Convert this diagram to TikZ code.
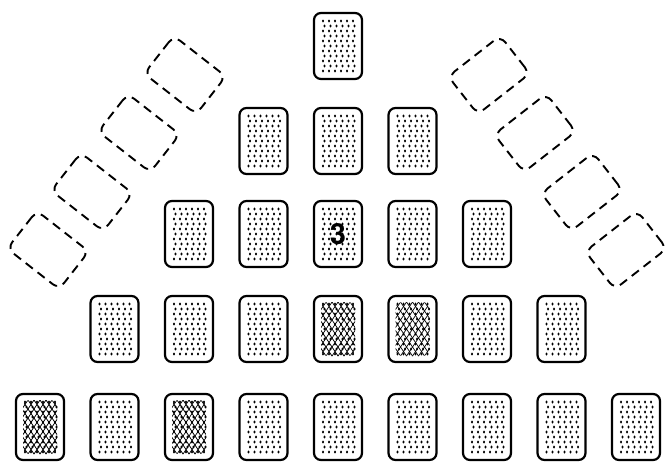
\documentclass[tikz,border=0pt]{standalone}
\usepackage{fontspec}
\newfontfamily\cardfont{TeX Gyre Heros}

% dotted back of a card
\newcommand{\carddots}{%
  \coordinate (pp) at (path picture bounding box.center);
  \foreach \i in {0,...,5}
    \foreach \j in {0,...,10}
      \fill ([shift={({-15+6*\i+1.5*mod(\j,2)},{25-5*\j})}]pp) ellipse (1.1pt and 1.6pt);}
% cross-hatched back of a card
\newcommand{\cardhatch}{%
  \coordinate (pp) at (path picture bounding box.center);
  \begin{scope}
    \clip ([shift={(-17,-27)}]pp) rectangle ([shift={(17,27)}]pp);
    \foreach \k in {-8,...,8}
      \draw[line width=0.7pt] ([shift={(6*\k-20,-30)}]pp) -- ++(40,60)
                              ([shift={(6*\k+20,-30)}]pp) -- ++(-40,60);
  \end{scope}}

\begin{document}
\begin{tikzpicture}[
  x=1pt,y=1pt,
  card/.style={draw,line width=2.2pt,rounded corners=7pt,minimum width=48pt,minimum height=66pt,
               inner sep=0pt,path picture={\carddots}},
  hatchcard/.style={card,path picture={\cardhatch\carddots}},
  ghostcard/.style={draw,line width=1.9pt,dash pattern=on 9pt off 6pt,rounded corners=8pt,
                    minimum width=48pt,minimum height=66pt,inner sep=0pt},
]
  \useasboundingbox (0,0) rectangle (666,464);

  % Row 1
  \node[card] (c11) at (338,418) {};

  % Row 2
  \node[card] (c21) at (263.5,323) {};
  \node[card] (c22) at (338,323) {};
  \node[card] (c23) at (412.5,323) {};

  % Row 3
  \node[card] (c31) at (189,230) {};
  \node[card] (c32) at (263.5,230) {};
  \node[card,font=\cardfont\bfseries\fontsize{29}{29}\selectfont] (c33) at (338,230) {3};
  \node[card] (c34) at (412.5,230) {};
  \node[card] (c35) at (487,230) {};

  % Row 4
  \node[card] (c41) at (114.5,135) {};
  \node[card] (c42) at (189,135) {};
  \node[card] (c43) at (263.5,135) {};
  \node[hatchcard] (c44) at (338,135) {};
  \node[hatchcard] (c45) at (412.5,135) {};
  \node[card] (c46) at (487,135) {};
  \node[card] (c47) at (561.5,135) {};

  % Row 5
  \node[hatchcard] (c51) at (40,37) {};
  \node[card] (c52) at (114.5,37) {};
  \node[hatchcard] (c53) at (189,37) {};
  \node[card] (c54) at (263.5,37) {};
  \node[card] (c55) at (338,37) {};
  \node[card] (c56) at (412.5,37) {};
  \node[card] (c57) at (487,37) {};
  \node[card] (c58) at (561.5,37) {};
  \node[card] (c59) at (636,37) {};

  % Empty places, left
  \node[ghostcard,rotate=52] (dl1) at (185,389) {};
  \node[ghostcard,rotate=52] (dl2) at (139,331) {};
  \node[ghostcard,rotate=52] (dl3) at (92,272) {};
  \node[ghostcard,rotate=52] (dl4) at (48,214) {};

  % Empty places, right
  \node[ghostcard,rotate=-52] (dr1) at (489,389) {};
  \node[ghostcard,rotate=-52] (dr2) at (535,331) {};
  \node[ghostcard,rotate=-52] (dr3) at (582,272) {};
  \node[ghostcard,rotate=-52] (dr4) at (626,214) {};
\end{tikzpicture}
\end{document}
